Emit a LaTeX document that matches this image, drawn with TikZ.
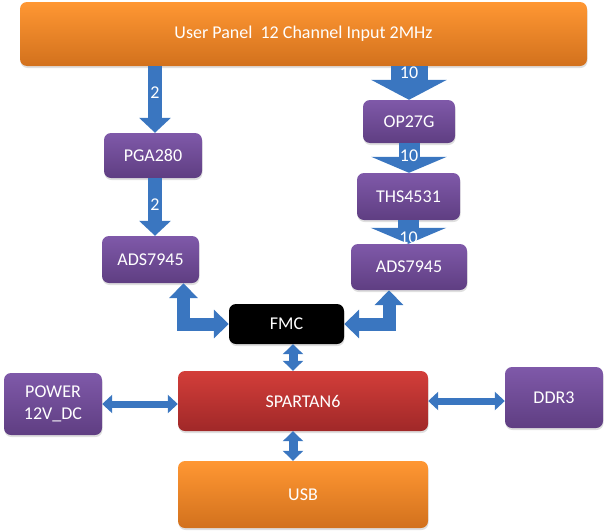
\documentclass[tikz,border=0pt]{standalone}
\usepackage{fontspec}
\setmainfont{Carlito}
\usetikzlibrary{arrows.meta}
\usetikzlibrary{shadows}
\definecolor{chipTop}{HTML}{7F59A9}
\definecolor{chipBot}{HTML}{5F3E82}
\definecolor{panelTop}{HTML}{FF9733}
\definecolor{panelBot}{HTML}{D2711D}
\definecolor{fpgaTop}{HTML}{D33E3A}
\definecolor{fpgaBot}{HTML}{A02828}
\definecolor{busBlue}{HTML}{3A76C0}

\tikzset{
  block/.style={rounded corners=7pt, inner sep=0pt, text=white, align=center,
    font=\fontsize{18}{22}\selectfont,
    drop shadow={shadow xshift=0.5pt, shadow yshift=-2pt, opacity=0.25}},
  chip/.style={block, top color=chipTop, bottom color=chipBot},
  panel/.style={block, top color=panelTop, bottom color=panelBot},
  fpga/.style={block, top color=fpgaTop, bottom color=fpgaBot},
  conn/.style={block, fill=black},
  lbl/.style={text=white, inner sep=0pt, font=\fontsize{18}{22}\selectfont},
  thin bus/.style={draw=busBlue, line width=14pt, -{Triangle[width=31pt,length=15pt]}},
  mid bus/.style={draw=busBlue, line width=21pt, -{Triangle[width=75pt,length=16pt]}},
  fat bus/.style={draw=busBlue, line width=37pt, -{Triangle[width=75pt,length=20pt]}},
  elbow bus/.style={draw=busBlue, line width=13pt,
    {Triangle[width=28pt,length=15pt]}-{Triangle[width=28pt,length=15pt]}},
  vlink/.style={draw=busBlue, line width=9pt,
    {Triangle[width=20pt,length=10pt]}-{Triangle[width=20pt,length=10pt]}},
  hlink/.style={draw=busBlue, line width=7pt,
    {Triangle[width=18pt,length=10pt]}-{Triangle[width=18pt,length=10pt]}}
}

\begin{document}
\begin{tikzpicture}[x=1pt, y=-1pt]
  \useasboundingbox (0,0) rectangle (607,530);

  % blocks
  \node[panel, minimum width=567pt, minimum height=64pt] (user) at (303.5,34) {User Panel\ \ 12 Channel Input 2MHz};
  \node[chip, minimum width=98pt, minimum height=45pt] (pga) at (153,155.5) {PGA280};
  \node[chip, minimum width=97pt, minimum height=47pt] (adsL) at (150.5,259.5) {ADS7945};
  \node[chip, minimum width=92pt, minimum height=43pt] (op) at (409,121.5) {OP27G};
  \node[chip, minimum width=103pt, minimum height=47pt] (ths) at (408.5,196.5) {THS4531};
  \node[chip, minimum width=116pt, minimum height=46pt] (adsR) at (409,267) {ADS7945};
  \node[conn, minimum width=115pt, minimum height=40pt] (fmc) at (286.5,324) {FMC};
  \node[fpga, minimum width=250pt, minimum height=60pt] (fpga) at (303,401) {SPARTAN6};
  \node[chip, minimum width=98pt, minimum height=62pt] (power) at (53,404) {POWER\\12V\_DC};
  \node[chip, minimum width=98pt, minimum height=61pt] (ddr) at (554,397.5) {DDR3};
  \node[panel, minimum width=250pt, minimum height=67pt] (usb) at (303,494.5) {USB};

  % analog chains
  \draw[thin bus] ([xshift=2pt]user.south -| pga.north) -- ([xshift=2pt]pga.north)
    node[lbl, pos=0.4] (n1) {2};
  \draw[thin bus] ([xshift=2pt]pga.south) -- ([xshift=2pt]pga.south |- adsL.north)
    node[lbl, pos=0.46] (n2) {2};
  \draw[fat bus] (user.south -| op.north) -- (op.north)
    node[lbl, pos=0.2] (n3) {10};
  \draw[mid bus] (op.south) -- (op.south |- ths.north)
    node[lbl, pos=0.43] (n4) {10};
  \draw[mid bus] (ths.south) -- (ths.south |- adsR.north)
    node[lbl, pos=0.76] (n5) {10};

  % digital side
  \draw[elbow bus] ([xshift=33pt]adsL.south) |- (fmc.west);
  \draw[elbow bus] (fmc.east) -| ([xshift=-20pt]adsR.south);
  \draw[vlink] ([xshift=6.5pt]fmc.south) -- ([xshift=6.5pt]fmc.south |- fpga.north);
  \draw[vlink] ([xshift=-10pt]fpga.south) -- ([xshift=-10pt]fpga.south |- usb.north);
  \draw[hlink] (power.east) -- (power.east -| fpga.west);
  \draw[hlink] (fpga.east) -- (fpga.east -| ddr.west);
\end{tikzpicture}
\end{document}
